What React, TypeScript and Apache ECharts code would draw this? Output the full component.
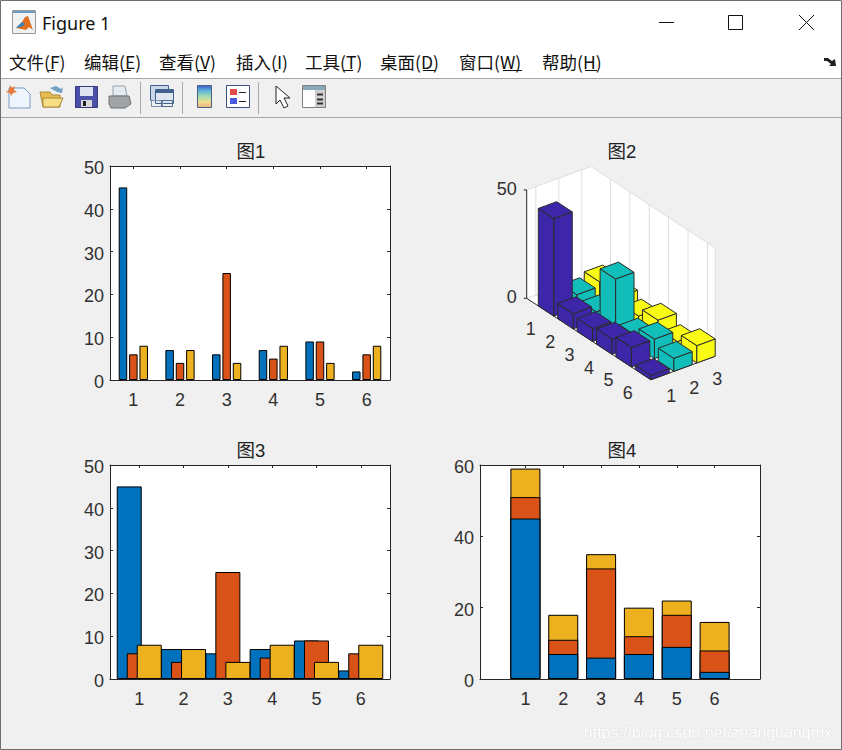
import { useEffect, useRef } from 'react';
import * as echarts from 'echarts';

const rows = [1, 2, 3, 4, 5, 6];
const cols = [1, 2, 3];
const seriesA = [45, 7, 6, 7, 9, 2];
const seriesB = [6, 4, 25, 5, 9, 6];
const seriesC = [8, 7, 4, 8, 4, 8];
const allSeries = [seriesA, seriesB, seriesC];

const menuLabels = ['文件(F)', '编辑(E)', '查看(V)', '插入(I)', '工具(T)', '桌面(D)', '窗口(W)', '帮助(H)'];
const menuX = [9, 84, 159, 236, 305, 380, 459, 542];
const menuUnderline = [[47, 55], [122, 131], [197, 207], [275, 278], [343, 353], [423, 435], [503, 522], [585, 597]];

const barColors = ['#0072BD', '#D95319', '#EDB120'];
const bar3Colors = ['#3E26A8', '#12BEB9', '#F9FB15'];
const AXIS = '#262626';
const TEXT = '#303030';
const FONT = '"Liberation Sans", "Noto Sans CJK SC", sans-serif';

// 3d view of 图2: axis limits and the screen vector of one unit of each axis
const ROW_MIN = 0;
const ROW_MAX = 6.4;
const COL_MIN = 0.6;
const COL_MAX = 3.4;
const Z_MAX = 50;
const zTicks = [0, 50];
const ORIGIN = [26.7, 91.7];
const ROW_VEC = [19.4, -12.73];
const COL_VEC = [22.97, 8.4];
const Z_VEC = 2.167;
const HALF = 0.4;

const project = (row: number, col: number, z: number) => [
  ORIGIN[0] + (row - ROW_MIN) * ROW_VEC[0] + (col - COL_MIN) * COL_VEC[0],
  ORIGIN[1] + (row - ROW_MIN) * ROW_VEC[1] + (col - COL_MIN) * COL_VEC[1] + z * Z_VEC,
];

const toPx = (api: any, row: number, col: number, z: number) => api.coord(project(row, col, z));

const line3 = (api: any, a: number[], b: number[], stroke: string) => {
  const p = toPx(api, a[0], a[1], a[2]);
  const q = toPx(api, b[0], b[1], b[2]);
  return {
    type: 'line',
    shape: { x1: p[0], y1: p[1], x2: q[0], y2: q[1] },
    style: { stroke, lineWidth: 1 },
  };
};

const label3 = (x: number, y: number, text: string, align = 'center') => ({
  type: 'text',
  x,
  y,
  style: { text, fill: TEXT, font: `18px ${FONT}`, align, verticalAlign: 'middle' },
});

const renderFrame = (_: any, api: any) => {
  const pts = [
    toPx(api, ROW_MIN, COL_MIN, 0),
    toPx(api, ROW_MIN, COL_MIN, Z_MAX),
    toPx(api, ROW_MIN, COL_MAX, Z_MAX),
    toPx(api, ROW_MAX, COL_MAX, Z_MAX),
    toPx(api, ROW_MAX, COL_MAX, 0),
    toPx(api, ROW_MAX, COL_MIN, 0),
  ];
  const grid = '#dedede';
  const children: any[] = [{ type: 'polygon', shape: { points: pts }, style: { fill: '#fff' } }];
  cols.forEach((c) => {
    children.push(line3(api, [ROW_MIN, c, 0], [ROW_MIN, c, Z_MAX], grid));
    children.push(line3(api, [ROW_MIN, c, 0], [ROW_MAX, c, 0], grid));
  });
  rows.forEach((r) => {
    children.push(line3(api, [r, COL_MAX, 0], [r, COL_MAX, Z_MAX], grid));
    children.push(line3(api, [r, COL_MIN, 0], [r, COL_MAX, 0], grid));
  });
  children.push(line3(api, [ROW_MIN, COL_MIN, Z_MAX], [ROW_MIN, COL_MAX, Z_MAX], grid));
  children.push(line3(api, [ROW_MIN, COL_MAX, Z_MAX], [ROW_MAX, COL_MAX, Z_MAX], grid));
  children.push(line3(api, [ROW_MIN, COL_MAX, 0], [ROW_MAX, COL_MAX, 0], grid));
  children.push(line3(api, [ROW_MIN, COL_MIN, 0], [ROW_MIN, COL_MAX, 0], grid));
  children.push(line3(api, [ROW_MAX, COL_MAX, 0], [ROW_MAX, COL_MAX, Z_MAX], grid));
  children.push(line3(api, [ROW_MIN, COL_MIN, 0], [ROW_MIN, COL_MIN, Z_MAX], AXIS));
  children.push(line3(api, [ROW_MIN, COL_MIN, 0], [ROW_MAX, COL_MIN, 0], AXIS));
  children.push(line3(api, [ROW_MAX, COL_MIN, 0], [ROW_MAX, COL_MAX, 0], AXIS));
  rows.forEach((r) => {
    const p = toPx(api, r, COL_MIN, 0);
    children.push(line3(api, [r, COL_MIN, 0], [r, COL_MIN + 0.12, 0], AXIS));
    children.push(label3(p[0] - 15.3, p[1] + 18.3, String(r)));
  });
  cols.forEach((c) => {
    const p = toPx(api, ROW_MAX, c, 0);
    children.push(line3(api, [ROW_MAX, c, 0], [ROW_MAX - 0.14, c, 0], AXIS));
    children.push(label3(p[0] + 11.3, p[1] + 19.5, String(c)));
  });
  zTicks.forEach((z) => {
    const p = toPx(api, ROW_MIN, COL_MIN, z);
    children.push({
      type: 'line',
      shape: { x1: p[0] - 3, y1: p[1], x2: p[0], y2: p[1] },
      style: { stroke: AXIS, lineWidth: 1 },
    });
    children.push(label3(p[0] - 10, p[1] - 1, String(z), 'right'));
  });
  return { type: 'group', children };
};

const renderBar3 = (_: any, api: any) => {
  const r = api.value(0);
  const c = api.value(1);
  const z = api.value(2);
  const fill = bar3Colors[c - 1];
  const style = { fill, stroke: '#2a2a2a', lineWidth: 1, lineJoin: 'round' };
  const face = (corners: number[][]) => ({
    type: 'polygon',
    shape: { points: corners.map((k) => toPx(api, k[0], k[1], k[2])) },
    style,
  });
  const r0 = r - HALF;
  const r1 = r + HALF;
  const c0 = c - HALF;
  const c1 = c + HALF;
  return {
    type: 'group',
    children: [
      face([[r0, c0, 0], [r1, c0, 0], [r1, c0, z], [r0, c0, z]]),
      face([[r1, c0, 0], [r1, c1, 0], [r1, c1, z], [r1, c0, z]]),
      face([[r0, c0, z], [r1, c0, z], [r1, c1, z], [r0, c1, z]]),
    ],
  };
};

const rect = (x: number, y: number, width: number, height: number, fill: any, stroke?: string) => ({
  type: 'rect',
  shape: { x, y, width, height },
  style: { fill, stroke: stroke ?? 'none', lineWidth: 1 },
});
const seg = (x1: number, y1: number, x2: number, y2: number, stroke: string, lineWidth = 1) => ({
  type: 'line',
  shape: { x1, y1, x2, y2 },
  style: { stroke, lineWidth },
});
const poly = (points: number[][], fill: any, stroke?: string) => ({
  type: 'polygon',
  shape: { points },
  style: { fill, stroke: stroke ?? 'none', lineWidth: 1 },
});

const chrome = (): any[] => {
  const vGrad = (stops: string[]) =>
    new echarts.graphic.LinearGradient(
      0,
      0,
      0,
      1,
      stops.map((color, i) => ({ offset: i / (stops.length - 1), color })),
    );
  return [
    rect(0, 0, 842, 78, '#fff'),
    rect(0.5, 0.5, 841, 749, 'none', '#6e6e6e'),
    seg(1, 78.5, 841, 78.5, '#a6a6a6'),
    seg(1, 117.5, 841, 117.5, '#a6a6a6'),

    // window title
    rect(12.5, 10.5, 23, 23, '#eef2f5', '#9a9a9a'),
    rect(13, 11, 22, 2, '#6f9cc0'),
    poly([[16, 28], [22, 22], [25, 17], [28, 16], [33, 30], [29, 27], [26, 30]], '#e2711d'),
    poly([[16, 28], [22, 22], [25, 24], [21, 27]], '#2f86c8'),
    {
      type: 'text',
      x: 42,
      y: 23,
      style: { text: 'Figure 1', fill: '#111', font: '18px "Noto Sans", sans-serif', verticalAlign: 'middle' },
    },
    seg(659, 22.5, 674, 22.5, '#111'),
    rect(728.5, 15.5, 14, 14, 'none', '#111'),
    seg(799, 15, 814, 30, '#111'),
    seg(814, 15, 799, 30, '#111'),

    // menu bar
    ...menuLabels.map((text, i) => ({
      type: 'text',
      x: menuX[i],
      y: 61,
      style: { text, fill: '#111', font: '17.5px "Noto Sans CJK SC", sans-serif', verticalAlign: 'middle' },
    })),
    ...menuUnderline.map((u) => seg(u[0], 70.5, u[1], 70.5, '#111')),
    poly([[824, 58], [828, 58], [832, 61], [835, 59], [836, 66], [829, 66], [831, 64], [827, 61], [824, 61]], '#222'),

    // toolbar: new, open, save, print
    poly([[9, 88], [24, 88], [30, 94], [30, 108], [9, 108]], '#eef5fc', '#7b9cc4'),
    poly([[10, 85], [12, 88], [15, 86], [14, 90], [17, 92], [13, 93], [11, 96], [10, 93], [6, 92], [9, 90]], '#e8793a'),
    poly([[40, 92], [50, 92], [52, 95], [60, 95], [60, 107], [43, 107]], '#e8bb4c', '#a98a3a'),
    poly([[43, 98], [63, 98], [59, 107], [43, 107]], '#f7dd84', '#a98a3a'),
    poly([[50, 88], [56, 86], [61, 89], [63, 87], [62, 93], [57, 92]], '#6fa0c4'),
    rect(75.5, 86.5, 22, 21, '#4a4fa8', '#34387f'),
    rect(80, 87, 13, 9, '#dfe3f2'),
    rect(81, 100, 11, 7, '#d8d8d8'),
    rect(83, 101, 3, 5, '#222'),
    poly([[113, 86], [125, 86], [127, 96], [113, 96]], '#e4ecf2', '#9aa0a6'),
    poly([[109, 96], [129, 96], [131, 104], [125, 108], [111, 108], [109, 104]], '#a2a5a8', '#6c6f72'),
    seg(140.5, 82, 140.5, 114, '#a8a8a8'),

    // toolbar: link
    rect(150.5, 85.5, 18, 15, '#c8d6e6', '#41618c'),
    rect(155.5, 89.5, 18, 14, '#dde6f0', '#41618c'),
    rect(156, 90, 17, 3, '#41618c'),
    rect(151.5, 100.5, 11, 6, 'none', '#7a8fa8'),
    rect(161.5, 100.5, 11, 6, 'none', '#4d6c92'),
    seg(182.5, 82, 182.5, 114, '#a8a8a8'),

    // toolbar: colorbar, legend
    rect(197.5, 85.5, 14, 22, vGrad(['#3a5fc8', '#5fb8d8', '#a4dcb0', '#eedd90', '#eeb080']), '#4f5f80'),
    rect(226.5, 85.5, 23, 22, '#fff', '#3f4f7f'),
    rect(230, 89, 7, 6, '#e24a4a'),
    rect(230, 98, 7, 6, '#4a5ae0'),
    seg(239, 92.5, 246, 92.5, '#222'),
    seg(239, 101.5, 246, 101.5, '#222'),
    seg(258.5, 82, 258.5, 114, '#a8a8a8'),

    // toolbar: pointer, property panel
    poly([[276, 86], [276, 104], [280, 100], [284, 108], [288, 106], [284, 98], [290, 98]], '#fff', '#222'),
    rect(302.5, 85.5, 23, 22, '#fff', '#7f7f7f'),
    rect(303, 86, 22, 4, '#88a8bc'),
    rect(315, 90, 10, 17, '#cfcfcf'),
    seg(317, 94.5, 323, 94.5, '#333', 2),
    seg(317, 99.5, 323, 99.5, '#333', 2),
    seg(317, 103.5, 323, 103.5, '#333', 2),

    // watermark
    {
      type: 'text',
      x: 832,
      y: 732,
      style: {
        text: 'https://blog.csdn.net/zhanghanqmx',
        fill: '#ffffff',
        stroke: 'rgba(170,170,170,0.25)',
        lineWidth: 1,
        font: '16px "Liberation Sans", sans-serif',
        align: 'right',
        verticalAlign: 'middle',
      },
    },
  ];
};

const plainAxes = (gridIndex: number, xMin: number, xMax: number, yMax: number, yStep: number) => {
  const line = { show: true, onZero: false, lineStyle: { color: AXIS, width: 1 } };
  const tick = { show: true, inside: true, length: 3, lineStyle: { color: AXIS, width: 1 } };
  const xBase = { type: 'value', gridIndex, min: xMin, max: xMax, splitLine: { show: false }, axisLine: line };
  const yBase = {
    type: 'value',
    gridIndex,
    min: 0,
    max: yMax,
    interval: yStep,
    splitLine: { show: false },
    axisLine: line,
    axisTick: tick,
  };
  return {
    x: [
      {
        ...xBase,
        position: 'bottom',
        axisTick: { ...tick, customValues: rows },
        axisLabel: { customValues: rows, color: TEXT, fontSize: 18, fontFamily: FONT, margin: 11, hideOverlap: false },
      },
      {
        ...xBase,
        position: 'top',
        axisTick: { ...tick, customValues: rows },
        axisLabel: { show: false, customValues: rows },
      },
    ],
    y: [
      {
        ...yBase,
        position: 'left',
        axisLabel: {
          color: TEXT,
          fontSize: 18,
          fontFamily: FONT,
          margin: 6,
          formatter: '{v|{value}}',
          rich: { v: { fontSize: 18, fontFamily: FONT, color: TEXT, padding: [4, 0, 0, 0] } },
        },
      },
      { ...yBase, position: 'right', axisLabel: { show: false } },
    ],
  };
};

const pairs = (values: number[]) => values.map((v, i) => [rows[i], v]);

const title = (text: string, left: number, top: number) => ({
  text,
  left,
  top,
  textAlign: 'center',
  textStyle: { fontSize: 18.5, fontWeight: 'normal', color: '#222', fontFamily: FONT },
});

// top of each segment in 图4, drawn tallest first so the lower segments cover it
const stackTops = (n: number) => rows.map((_, i) => allSeries.slice(0, n + 1).reduce((sum, s) => sum + s[i], 0));

const App = () => {
  const chartRef = useRef<HTMLDivElement>(null);

  useEffect(() => {
    if (!chartRef.current) return;
    const chart = echarts.init(chartRef.current, undefined, { renderer: 'svg' });

    const a1 = plainAxes(0, 0.5, 6.5, 50, 10);
    const a3 = plainAxes(1, 0.34, 6.66, 50, 10);
    const a4 = plainAxes(2, -0.2, 7.2, 60, 20);

    // indices in the axis arrays: 0,1 图1 / 2,3 图3 / 4,5 图4 / 6 hidden scene of 图2
    const scene = { gridIndex: 3, type: 'value', min: 0, show: false };
    const border = { borderColor: '#000', borderWidth: 1 };

    const option: any = {
      animation: false,
      backgroundColor: '#f0f0f0',
      title: [title('图1', 246, 137), title('图2', 617, 137), title('图3', 246, 436), title('图4', 617, 436)],
      graphic: { elements: chrome() },
      grid: [
        { left: 110, top: 166, width: 280, height: 214, show: true, backgroundColor: '#fff', borderWidth: 0 },
        { left: 110, top: 465, width: 280, height: 214, show: true, backgroundColor: '#fff', borderWidth: 0 },
        { left: 480, top: 465, width: 280, height: 214, show: true, backgroundColor: '#fff', borderWidth: 0 },
        { left: 500, top: 160, width: 240, height: 230, show: false },
      ],
      xAxis: [...a1.x, ...a3.x, ...a4.x, { ...scene, max: 240 }],
      yAxis: [...a1.y, ...a3.y, ...a4.y, { ...scene, max: 230 }],
      series: [
        ...allSeries.map((values, i) => ({
          type: 'bar',
          xAxisIndex: 0,
          yAxisIndex: 0,
          data: pairs(values),
          barWidth: 8.5,
          barGap: '22%',
          itemStyle: { ...border, color: barColors[i] },
        })),
        ...allSeries.map((values, i) => ({
          type: 'bar',
          xAxisIndex: 2,
          yAxisIndex: 2,
          data: pairs(values),
          barWidth: 25,
          barGap: '-60%',
          itemStyle: { ...border, color: barColors[i] },
        })),
        ...[2, 1, 0].map((i) => ({
          type: 'bar',
          xAxisIndex: 4,
          yAxisIndex: 4,
          data: pairs(stackTops(i)),
          barWidth: 30,
          barGap: '-100%',
          itemStyle: { ...border, color: barColors[i] },
        })),
        {
          type: 'custom',
          xAxisIndex: 6,
          yAxisIndex: 6,
          data: [[0, 0]],
          renderItem: renderFrame,
          silent: true,
        },
        // farthest column first so nearer bars cover it
        ...[2, 1, 0].map((c) => ({
          type: 'custom',
          xAxisIndex: 6,
          yAxisIndex: 6,
          data: allSeries[c].map((v, i) => [rows[i], cols[c], v]),
          encode: { x: 0, y: 1 },
          renderItem: renderBar3,
          silent: true,
        })),
      ],
    };

    chart.setOption(option);
    return () => chart.dispose();
  }, []);

  return <div ref={chartRef} style={{ position: 'absolute', left: 0, top: 0, width: 842, height: 750 }} />;
};

export default App;
